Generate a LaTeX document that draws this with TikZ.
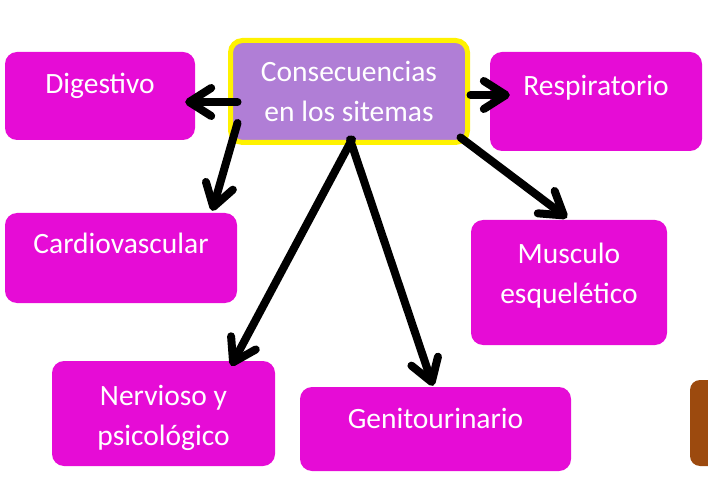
\documentclass[tikz,border=0pt]{standalone}
\usepackage{fontspec}
\setmainfont{Carlito}
\usetikzlibrary{calc}
\usetikzlibrary{arrows.meta}
\definecolor{boxmag}{RGB}{230,12,214}
\definecolor{cenpurple}{RGB}{176,126,214}
\definecolor{brownbox}{RGB}{156,74,14}

\begin{document}
\begin{tikzpicture}[x=1pt, y=1pt,
  sys/.style={fill=boxmag, rounded corners=12pt, inner sep=0pt},
  boxtext/.style={text=white, font=\fontsize{29.5}{40}\selectfont, align=center, anchor=base, inner sep=0pt},
  arr/.style={-{Straight Barb[length=22pt,width=28pt,round]}, line width=8pt, line cap=round}]
\clip (0,0) rectangle (708,482);
% boxes
\node [fill=cenpurple, draw=yellow, line width=5pt, rounded corners=12pt, minimum width=237pt, minimum height=102pt] (cen) at (349,390.5) {};
\node [sys, minimum width=190pt, minimum height=88pt] (dig) at (100,386) {};
\node [sys, minimum width=212pt, minimum height=99pt] (resp) at (596,380.5) {};
\node [sys, minimum width=232pt, minimum height=90pt] (card) at (121,224) {};
\node [sys, minimum width=196pt, minimum height=125pt] (musc) at (569,199.5) {};
\node [sys, minimum width=223pt, minimum height=105pt] (nerv) at (163.5,68.5) {};
\node [sys, minimum width=271pt, minimum height=84pt] (geni) at (435.5,53) {};
\node [fill=brownbox, rounded corners=10pt, minimum width=60pt, minimum height=86pt] (other) at (720,59) {};
% texts (base = last line)
\node [boxtext] (cen-t) at ([yshift=-84pt]cen.north) {Consecuencias\\en los sitemas};
\node [boxtext] (dig-t) at ([yshift=-42pt]dig.north) {Digestivo};
\node [boxtext] (resp-t) at ([yshift=-44pt]resp.north) {Respiratorio};
\node [boxtext] (card-t) at ([yshift=-41pt]card.north) {Cardiovascular};
\node [boxtext] (musc-t) at ([yshift=-84pt]musc.north) {Musculo\\esquelético};
\node [boxtext] (nerv-t) at ([yshift=-85pt]nerv.north) {Nervioso y\\psicológico};
\node [boxtext] (geni-t) at ([yshift=-42pt]geni.north) {Genitourinario};
% arrows
\draw [arr] ($(cen.west)+(9.5,-10.5)$) -- ($(dig.east)+(-10,-6)$);
\draw [arr] ($(cen.west)+(9.5,-31.5)$) -- ($(card.north east)+(-25,2)$);
\draw [arr] ($(cen.east)+(0.5,-3.5)$) -- ($(resp.west)+(20,6.5)$);
\draw [arr] ($(cen.south east)+(-9.5,7.5)$) -- ($(musc.north)+(-2,2)$);
\draw [arr] ($(cen.south)+(3,5.5)$) -- ($(nerv.north east)+(-44,-5)$);
\draw [arr] ($(cen.south)+(1,5.5)$) -- ($(geni.north)+(-2.5,1)$);
\end{tikzpicture}
\end{document}
